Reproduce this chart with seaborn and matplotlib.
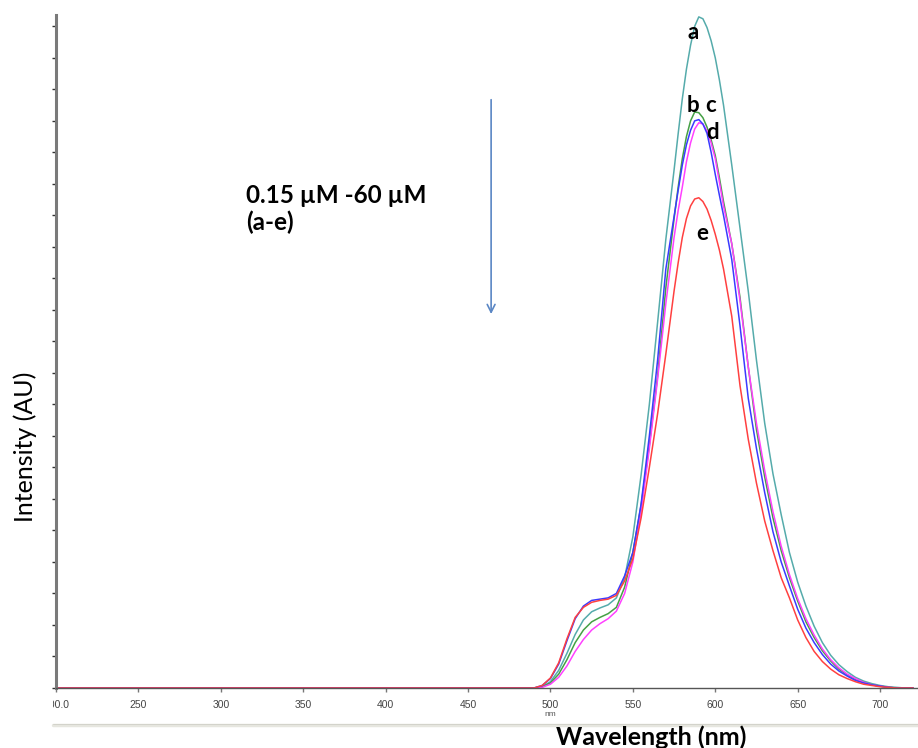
import matplotlib
matplotlib.use("Agg")
import matplotlib.pyplot as plt
from matplotlib.lines import Line2D
from matplotlib.transforms import Bbox
import numpy as np
import pandas as pd
import seaborn as sns

# Emission spectra (arbitrary intensity units), wavelength in nm
wavelength = [200, 485, 490, 495, 500, 505, 510, 515, 520, 525, 530, 535, 540,
              545, 550, 555, 560, 565, 570, 575, 577.5, 580, 582.5, 585, 587.5,
              590, 592.5, 595, 597.5, 600, 602.5, 605,
              610, 615, 620, 625, 630, 635, 640, 645, 650, 655, 660, 665, 670,
              675, 680, 685, 690, 695, 700, 705, 710, 715, 720]

spec_a = [0, 0, 0, 2, 10, 28, 55, 85, 108, 121, 127, 132, 143,
          175, 240, 338, 450, 580, 712, 822, 880, 935, 982, 1020, 1050,
          1065, 1062, 1048, 1027, 1000, 965, 925,
          830, 730, 630, 520, 420, 340, 275, 215, 168, 130, 98, 72, 52,
          37, 26, 17, 11, 7, 4, 2, 1, 0, 0]

spec_b = [0, 0, 0, 2, 8, 22, 45, 72, 92, 105, 112, 118, 128,
          160, 215, 290, 385, 495, 635, 745, 795, 840, 875, 900, 914,
          913, 905, 890, 870, 845, 810, 772,
          705, 620, 510, 410, 335, 270, 218, 175, 138, 105, 80, 59, 43,
          30, 21, 14, 9, 5, 3, 1, 0, 0, 0]

spec_c = [0, 0, 0, 4, 15, 38, 75, 110, 130, 139, 141, 143, 150,
          178, 215, 292, 400, 520, 665, 748, 790, 830, 862, 885, 900,
          902, 895, 880, 850, 815, 782, 750,
          680, 575, 460, 380, 310, 248, 200, 162, 125, 95, 72, 53, 38,
          27, 19, 12, 8, 5, 3, 1, 0, 0, 0]

spec_d = [0, 0, 0, 1, 6, 17, 35, 58, 77, 92, 102, 110, 122,
          150, 200, 280, 380, 490, 610, 715, 758, 795, 835, 865, 887,
          897, 895, 884, 865, 840, 803, 765,
          705, 615, 510, 420, 345, 280, 225, 180, 142, 110, 84, 62, 45,
          32, 22, 15, 9, 5, 3, 1, 0, 0, 0]

spec_e = [0, 0, 0, 4, 16, 40, 78, 112, 128, 136, 139, 141, 147,
          170, 205, 270, 350, 435, 530, 630, 675, 715, 745, 765, 776,
          778, 772, 760, 742, 720, 695, 665,
          590, 480, 395, 325, 265, 218, 175, 143, 108, 80, 58, 42, 30,
          21, 15, 10, 6, 4, 2, 1, 0, 0, 0]

series_names = ["a", "b", "c", "d", "e"]
series_colors = ["#55abab", "#45a045", "#3a3aff", "#ff40ff", "#ff4040"]
x_ticks = [200, 250, 300, 350, 400, 450, 500, 550, 600, 650, 700]
x_tick_labels = ["200.0", "250", "300", "350", "400", "450", "500", "550",
                 "600", "650", "700"]

frames = []
for name, vals in zip(series_names, [spec_a, spec_b, spec_c, spec_d, spec_e]):
    frames.append(pd.DataFrame({"wavelength": wavelength, "intensity": vals,
                                "sample": name}))
df = pd.concat(frames, ignore_index=True)

sns.set_theme(style="white")
plt.rcParams["font.family"] = ["Lato", "DejaVu Sans"]

W, H = 918, 748
fig = plt.figure(figsize=(W / 100, H / 100), dpi=100)
ax = fig.add_axes([56 / W, 60 / H, (W - 56) / W, 673 / H])

order = ["a", "b", "d", "c", "e"]
sns.lineplot(data=df, x="wavelength", y="intensity", hue="sample",
             hue_order=order,
             palette=dict(zip(series_names, series_colors)),
             linewidth=1.1, legend=False, ax=ax, estimator=None, sort=False)
for ln in ax.get_lines():
    ln.set_solid_joinstyle("round")

ax.set_xlim(200, 723)
ax.set_ylim(0, 1068)

for side in ["top", "right"]:
    ax.spines[side].set_visible(False)
ax.spines["left"].set_color("#7a7a7a")
ax.spines["left"].set_linewidth(2.2)
ax.spines["bottom"].set_color("#555555")
ax.spines["bottom"].set_linewidth(1.0)

ax.set_xticks(x_ticks)
ax.set_xticklabels(x_tick_labels)
ax.set_yticks(np.arange(0, 1051, 50))
ax.set_yticklabels([])
ax.tick_params(axis="x", bottom=True, direction="out", length=3, width=1,
               color="#777777", labelsize=7.5, labelcolor="#444444", pad=6)
ax.tick_params(axis="y", left=True, direction="out", length=3, width=1,
               color="#333333", pad=2)
for lbl in ax.get_xticklabels():
    lbl.set_family(["Liberation Sans", "DejaVu Sans"])

ax.set_xlabel("")
ax.set_ylabel("")

# the first tick label is cut at the panel edge
fig.canvas.draw()
first = ax.get_xticklabels()[0]
first.set_clip_box(Bbox.from_extents(53, 0, W, H))
first.set_clip_on(True)

# small unit note under the 500 tick
ax.text(500, -0.040, "nm", transform=ax.get_xaxis_transform(), ha="center",
        va="center", fontsize=6, color="#555555",
        family=["Liberation Sans", "DejaVu Sans"])

# separator strip beneath the axis panel
fig.add_artist(Line2D([53 / W, 1.0], [1 - 725 / H, 1 - 725 / H],
                      transform=fig.transFigure, color="#e6e6df",
                      linewidth=2.5))
fig.add_artist(Line2D([53 / W, 1.0], [1 - 723.5 / H, 1 - 723.5 / H],
                      transform=fig.transFigure, color="#d0d0c8",
                      linewidth=0.6))

fig.text(651 / W, 1 - 737 / H, "Wavelength (nm)", ha="center", va="center",
         fontsize=18, fontweight="bold", color="black")
fig.text(25 / W, 1 - 447 / H, "Intensity (AU)", ha="center", va="center",
         rotation=90, fontsize=18, color="black")

# curve labels
label_pos = {"a": (586.5, 1041), "b": (586.5, 925), "c": (597.4, 925),
             "d": (598.5, 881), "e": (592.0, 722)}
for name, (lx, ly) in label_pos.items():
    ax.text(lx, ly, name, ha="center", va="center", fontsize=16,
            fontweight="bold", color="black")

# concentration range and decreasing-trend arrow
ax.text(315.3, 782, "0.15 \u00b5M -60 \u00b5M", ha="left", va="center",
        fontsize=17.5, fontweight="bold", color="black")
ax.text(315.3, 739, "(a-e)", ha="left", va="center",
        fontsize=17.5, fontweight="bold", color="black")
ax.annotate("", xy=(464, 589), xytext=(464, 938),
            arrowprops=dict(arrowstyle="->", color="#5b87c5", lw=1.2,
                            mutation_scale=14))

fig.savefig("out.png", dpi=100)
